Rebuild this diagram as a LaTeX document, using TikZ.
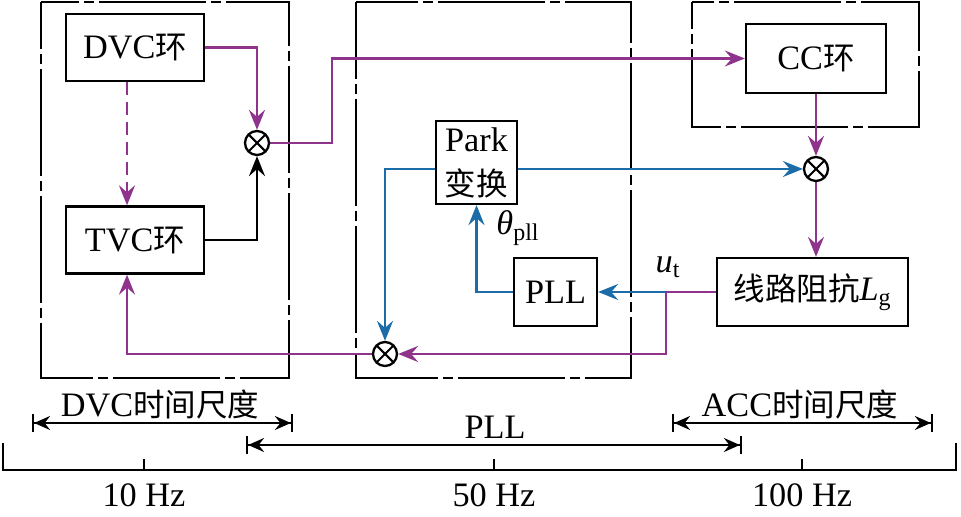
\documentclass[tikz,border=0pt]{standalone}
\usepackage{fontspec}
\setmainfont{Liberation Serif}
\newfontfamily\cjk[Scale=0.92]{Noto Sans CJK SC}
\usetikzlibrary{arrows.meta}
\pgfdeclarelayer{framelayer}
\pgfdeclarelayer{edgelayer}
\pgfdeclarelayer{nodelayer}
\pgfsetlayers{framelayer,edgelayer,nodelayer,main}
\definecolor{loopviolet}{RGB}{142,52,140}
\definecolor{pllblue}{RGB}{28,108,168}
\tikzstyle{block}=[rectangle, draw=black, line width=1.3pt, inner sep=0pt, align=center]
\tikzstyle{loopbox}=[block, minimum width=2.76cm, minimum height=1.34cm]
\tikzstyle{mult}=[circle, draw=black, line width=1.3pt, minimum size=0.48cm, inner sep=0pt, path picture={\draw[line width=1.2pt] (path picture bounding box.north west) -- (path picture bounding box.south east) (path picture bounding box.south west) -- (path picture bounding box.north east);}]
\tikzstyle{frame}=[draw=black, line width=1.6pt, dash pattern=on 2.14cm off 0.1cm on 0.2cm off 0.1cm]
\tikzstyle{violet line}=[draw=loopviolet, line width=1.2pt]
\tikzstyle{violet edge}=[violet line, -{Stealth[length=0.4cm, width=0.32cm, inset=0.14cm]}]
\tikzstyle{blue edge}=[draw=pllblue, line width=1.2pt, -{Stealth[length=0.4cm, width=0.32cm, inset=0.14cm]}]
\tikzstyle{black edge}=[draw=black, line width=1.2pt, -{Stealth[length=0.4cm, width=0.32cm, inset=0.14cm]}]
\tikzstyle{axis}=[draw=black, line width=1.3pt]
\tikzstyle{scale edge}=[draw=black, line width=1.2pt, {Bar[width=0.36cm]Stealth[length=0.32cm, width=0.28cm, inset=0.11cm]}-{Stealth[length=0.32cm, width=0.28cm, inset=0.11cm]Bar[width=0.36cm]}]

\begin{document}
\begin{tikzpicture}[font=\fontsize{19.5pt}{23pt}\selectfont]
			\useasboundingbox (0,0) rectangle (19.22,10.34);
			\begin{pgfonlayer}{framelayer}
			\draw [style=frame, dash phase=1.2cm] (0.82, 10.30) rectangle (5.78, 2.78);
			\draw [style=frame, dash phase=0.6cm] (7.12, 10.30) rectangle (12.62, 2.78);
			\draw [style=frame, dash phase=1.6cm] (13.84, 10.30) rectangle (18.38, 7.80);
			\end{pgfonlayer}
			\begin{pgfonlayer}{nodelayer}
			\node [style=loopbox] (0) at (2.70, 9.39) {DVC{\cjk 环}};
			\node [style=loopbox] (1) at (2.70, 5.54) {TVC{\cjk 环}};
			\node [style=mult] (2) at (5.14, 7.48) {};
			\node [style=block, minimum width=2.80cm, minimum height=1.38cm] (3) at (16.32, 9.17) {CC{\cjk 环}};
			\node [style=mult] (4) at (16.32, 6.96) {};
			\node [style=block, minimum width=3.82cm, minimum height=1.36cm] (5) at (16.25, 4.50) {{\cjk 线路阻抗}\textit{L}\textsubscript{g}};
			\node [style=block, minimum width=1.62cm, minimum height=1.66cm, font=\fontsize{19.5pt}{25pt}\selectfont] (6) at (9.53, 7.09) {Park\\{\cjk 变换}};
			\node [style=block, minimum width=1.66cm, minimum height=1.36cm] (7) at (11.11, 4.50) {PLL};
			\node [style=mult] (8) at (7.70, 3.26) {};
			\coordinate (9) at (13.32, 4.50);
			\coordinate (10) at (6.64, 9.17);
			\node (11) at (10.36, 5.78) {\textit{θ}\textsubscript{pll}};
			\node (12) at (13.36, 5.00) {\textit{u}\textsubscript{t}};
			\coordinate (13) at (0.06, 1.48);
			\coordinate (14) at (0.06, 0.94);
			\coordinate (15) at (19.12, 0.94);
			\coordinate (16) at (19.12, 1.48);
			\coordinate (17) at (2.88, 0.94);
			\coordinate (18) at (9.88, 0.94);
			\coordinate (19) at (16.04, 0.94);
			\node (20) at (2.88, 0.44) {10 Hz};
			\node (21) at (9.88, 0.44) {50 Hz};
			\node (22) at (16.04, 0.44) {100 Hz};
			\coordinate (23) at (0.64, 1.88);
			\coordinate (24) at (5.86, 1.88);
			\coordinate (25) at (4.92, 1.44);
			\coordinate (26) at (14.84, 1.44);
			\coordinate (27) at (13.44, 1.88);
			\coordinate (28) at (18.66, 1.88);
			\node (29) at (3.20, 2.24) {DVC{\cjk 时间尺度}};
			\node (30) at (9.90, 1.80) {PLL};
			\node (31) at (16.00, 2.24) {ACC{\cjk 时间尺度}};
			\end{pgfonlayer}
			\begin{pgfonlayer}{edgelayer}
			\draw [style=violet edge] (0) -| (2);
			\draw [style=violet edge, dash pattern=on 0.26cm off 0.14cm] ([xshift=-0.16cm]0.south) to ([xshift=-0.16cm]1.north);
			\draw [style=black edge] (1) -| (2);
			\draw [style=violet edge] (2) -| (10) to (3);
			\draw [style=violet edge] (3) to (4);
			\draw [style=violet edge] (4) to (4 |- 5.north);
			\draw [style=blue edge] (6.east |- 4) to (4);
			\draw [style=blue edge] (6.west |- 4) -| (8);
			\draw [style=blue edge] (7) -| (6);
			\draw [style=blue edge] (9) to (7);
			\draw [style=violet line] (5) to (9);
			\draw [style=violet edge] (9) |- (8);
			\draw [style=violet edge] (8) -| ([xshift=-0.16cm]1.south);
			\draw [style=axis] (13) -- (14) -- (15) -- (16);
			\draw [style=axis] (17) -- ++(0, 0.22);
			\draw [style=axis] (18) -- ++(0, 0.22);
			\draw [style=axis] (19) -- ++(0, 0.22);
			\draw [style=scale edge] (23) to (24);
			\draw [style=scale edge] (25) to (26);
			\draw [style=scale edge] (27) to (28);
			\end{pgfonlayer}
\end{tikzpicture}
\end{document}
